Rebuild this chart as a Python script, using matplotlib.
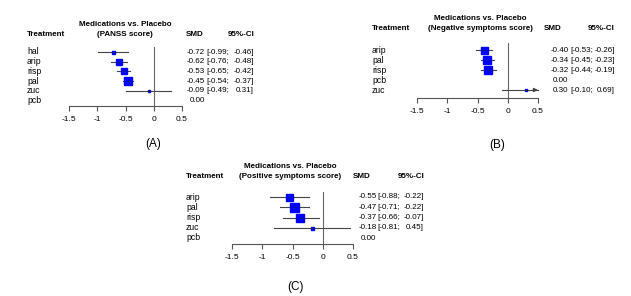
import numpy as np
import matplotlib
matplotlib.use("Agg")
import matplotlib.pyplot as plt
import matplotlib.transforms as mtransforms

plt.rcParams['font.family'] = ['Liberation Sans', 'DejaVu Sans']

W, H = 631, 296

# panel A: PANSS score
a_names = ['hal', 'arip', 'risp', 'pal', 'zuc', 'pcb']
a_smd = [-0.72, -0.62, -0.53, -0.45, -0.09, 0.00]
a_lo = [-0.99, -0.76, -0.65, -0.54, -0.49, np.nan]
a_hi = [-0.46, -0.48, -0.42, -0.37, 0.31, np.nan]
a_w = [3, 5.5, 6.5, 8.5, 2, 0]

# panel B: negative symptoms
b_names = ['arip', 'pal', 'risp', 'pcb', 'zuc']
b_smd = [-0.40, -0.34, -0.32, 0.00, 0.30]
b_lo = [-0.53, -0.45, -0.44, np.nan, -0.10]
b_hi = [-0.26, -0.23, -0.19, np.nan, 0.69]
b_w = [7, 8.5, 8, 0, 2.5]

# panel C: positive symptoms
c_names = ['arip', 'pal', 'risp', 'zuc', 'pcb']
c_smd = [-0.55, -0.47, -0.37, -0.18, 0.00]
c_lo = [-0.88, -0.71, -0.66, -0.81, np.nan]
c_hi = [-0.22, -0.22, -0.07, 0.45, np.nan]
c_w = [7, 9, 7.5, 3, 0]

ticks = [-1.5, -1, -0.5, 0, 0.5]
tick_labels = ['-1.5', '-1', '-0.5', '0', '0.5']

fig = plt.figure(figsize=(W / 100, H / 100), dpi=100)
FS = 5.8    # regular text
FSB = 5.8   # bold headers


def fx(px):
    return px / W


def fy(py):
    return 1 - py / H


def forest(names, smd, lo, hi, wts, subtitle, label, g):
    # g: pixel geometry of the panel
    x0, x1 = g['x0'], g['x1']
    yax, ytop, row0, s = g['yax'], g['ytop'], g['row0'], g['s']
    ax = fig.add_axes([fx(x0), fy(yax), (x1 - x0) / W, (yax - ytop) / H])
    ax.set_xlim(-1.5, 0.5)
    ax.set_ylim((yax - row0) / s, (ytop - row0) / s)
    ax.patch.set_alpha(0)
    for sp in ['top', 'left', 'right']:
        ax.spines[sp].set_visible(False)
    ax.spines['bottom'].set_color('#555555')
    ax.spines['bottom'].set_linewidth(0.8)
    ax.set_yticks([])
    ax.set_xticks(ticks)
    ax.set_xticklabels(tick_labels, fontsize=6.0)
    ax.tick_params(axis='x', direction='out', length=3.5, width=0.8,
                   color='#555555', pad=4)
    ax.axvline(0, color='#666666', lw=0.8, zorder=1)

    for i in range(len(names)):
        if np.isnan(lo[i]):
            continue
        if hi[i] > 0.5:
            ax.plot([lo[i], 0.5], [i, i], color='#444444', lw=0.8, zorder=2,
                    clip_on=False)
            ax.annotate('', xy=(0.5, i), xytext=(0.42, i),
                        arrowprops=dict(arrowstyle='-|>', color='#444444',
                                        lw=0.8, mutation_scale=6,
                                        shrinkA=0, shrinkB=0),
                        annotation_clip=False)
        else:
            ax.plot([lo[i], hi[i]], [i, i], color='#444444', lw=0.8, zorder=2)
        ax.plot(smd[i], i, marker='s', ms=wts[i] * 0.72, color='#0000ff',
                mec='#0000ff', zorder=3)
        ax.plot([smd[i] - 0.01, smd[i] + 0.01], [i, i], color='#222244',
                lw=0.8, zorder=4)

    tr = mtransforms.blended_transform_factory(fig.transFigure, ax.transData)
    for i, n in enumerate(names):
        ax.text(fx(g['tx']), i, n, transform=tr, fontsize=6.2,
                va='center', ha='left')
        ax.text(fx(g['vx']), i, f"{smd[i]:.2f}", transform=tr, fontsize=FS,
                va='center', ha='right')
        if not np.isnan(lo[i]):
            ax.text(fx(g['cx0']), i, f"[{lo[i]:.2f};", transform=tr,
                    fontsize=FS, va='center', ha='left')
            ax.text(fx(g['cx1']), i, f"{hi[i]:.2f}]", transform=tr,
                    fontsize=FS, va='center', ha='right')

    fig.text(fx(g['titx']), fy(g['ty1']), 'Medications vs. Placebo',
             fontsize=FSB, fontweight='bold', ha='center', va='center')
    fig.text(fx(g['titx']), fy(g['ty2']), subtitle,
             fontsize=FSB, fontweight='bold', ha='center', va='center')
    fig.text(fx(g['tx']), fy(g['ty2']), 'Treatment', fontsize=FSB,
             fontweight='bold', ha='left', va='center')
    fig.text(fx(g['smdx']), fy(g['ty2']), 'SMD', fontsize=FSB,
             fontweight='bold', ha='center', va='center')
    fig.text(fx(g['cx1']), fy(g['ty2']), '95%-CI', fontsize=FSB,
             fontweight='bold', ha='right', va='center')
    fig.text(fx(g['lx']), fy(g['ly']), label, fontsize=8.5,
             ha='center', va='center')


forest(a_names, a_smd, a_lo, a_hi, a_w, '(PANSS score)', '(A)',
       dict(x0=69, x1=182, yax=106, ytop=47, row0=52, s=9.7,
            tx=27, titx=125, ty1=24, ty2=34, smdx=195, vx=205,
            cx0=206.5, cx1=254, lx=153, ly=144))

forest(b_names, b_smd, b_lo, b_hi, b_w, '(Negative symptoms score)', '(B)',
       dict(x0=417, x1=538, yax=98, ytop=43, row0=50, s=10,
            tx=372, titx=480, ty1=19, ty2=29, smdx=553, vx=568.5,
            cx0=570, cx1=615, lx=497, ly=145))

forest(c_names, c_smd, c_lo, c_hi, c_w, '(Positive symptoms score)', '(C)',
       dict(x0=232, x1=353, yax=244, ytop=192, row0=197, s=10.25,
            tx=186, titx=290, ty1=166, ty2=177, smdx=362, vx=376.5,
            cx0=377.5, cx1=424, lx=295, ly=287))

fig.savefig('out.png', dpi=100)
